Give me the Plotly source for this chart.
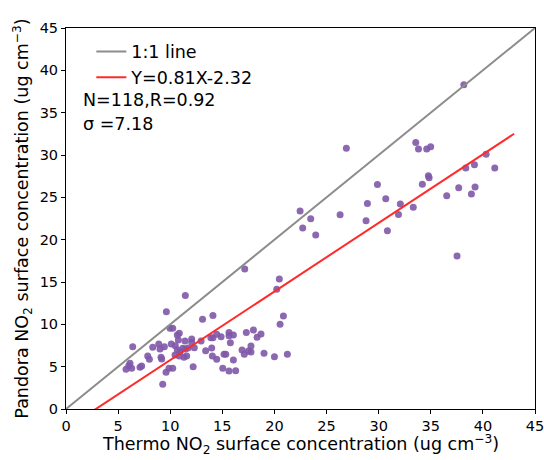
import plotly.graph_objects as go

# Thermo NO2 (x) vs Pandora NO2 (y), ug cm^-3
thermo = [
    11.45, 9.63, 9.98, 10.24, 10.68, 10.87, 10.78, 11.42, 12.06, 12.06,
    6.4, 8.32, 8.9, 9.02, 9.44, 10.1, 10.49, 10.68, 10.94, 11.2,
    11.45, 11.71, 12.31, 10.46, 10.87, 11.32, 11.58, 12.2, 9.12, 9.18,
    7.84, 8.0, 7.1, 7.26, 6.14, 6.3, 5.76, 6.02, 9.6, 9.88,
    10.24, 9.28, 12.96, 13.1, 14.1, 20.86, 20.54, 13.9, 14.1, 14.46,
    14.88, 15.64, 15.64, 16.06, 15.77, 17.3, 17.98, 18.71, 18.33, 13.4,
    13.98, 14.04, 14.46, 15.16, 15.33, 16.06, 16.89, 17.11, 17.5, 17.75,
    17.75, 19.0, 20.0, 21.24, 15.04, 15.64, 16.28, 17.15, 20.47, 20.22,
    26.9, 33.56, 33.82, 34.61, 34.99, 29.88, 28.92, 30.68, 32.08, 33.32,
    31.9, 28.79, 30.84, 26.3, 22.46, 23.48, 22.71, 23.96, 38.17, 40.31,
    38.36, 39.19, 41.14, 34.77, 34.84, 34.19, 37.68, 39.25, 38.9, 36.53,
    37.52,
]
pandora = [
    13.42, 11.5, 9.53, 9.53, 8.74, 8.94, 8.15, 8.03, 8.26, 7.87,
    7.36, 7.28, 7.67, 7.08, 7.36, 7.67, 7.47, 6.97, 6.77, 7.17,
    7.08, 7.2, 7.24, 6.38, 6.26, 6.1, 6.26, 4.99, 6.1, 5.9,
    6.26, 5.87, 4.92, 5.08, 5.39, 4.8, 4.69, 5.12, 4.33, 4.8,
    4.8, 2.92, 8.03, 10.6, 11.04, 10.98, 10.0, 8.42, 8.42, 8.82,
    8.54, 9.05, 8.66, 8.74, 7.83, 9.05, 9.33, 8.86, 8.46, 6.89,
    7.2, 6.26, 5.87, 6.46, 6.46, 5.78, 6.97, 6.46, 6.86, 7.45,
    6.73, 6.58, 6.18, 6.46, 4.8, 4.49, 4.52, 16.53, 15.35, 14.13,
    30.8, 31.49, 30.72, 30.7, 30.97, 26.53, 24.28, 24.83, 24.22, 23.82,
    22.96, 22.23, 21.05, 22.94, 23.38, 22.47, 21.37, 20.54, 38.29, 30.1,
    28.45, 28.85, 28.45, 27.55, 27.31, 26.56, 26.13, 26.21, 25.38, 25.18,
    18.06,
]

one_to_one_x = [0, 45]
slope, intercept = 0.81, -2.32
fit_x = [0, 43]
fit_y = [slope * v + intercept for v in fit_x]

tick_vals = [0, 5, 10, 15, 20, 25, 30, 35, 40, 45]

FONT = "DejaVu Sans"

fig = go.Figure()
fig.add_trace(go.Scatter(
    x=thermo, y=pandora, mode="markers", showlegend=False,
    marker=dict(size=7, color="rgba(128,88,168,0.9)", line=dict(width=0)),
))
fig.add_trace(go.Scatter(
    x=one_to_one_x, y=one_to_one_x, mode="lines", name="1:1 line",
    line=dict(color="#8c8c8c", width=2), legendgroup="a",
))
fig.add_trace(go.Scatter(
    x=fit_x, y=fit_y, mode="lines", name="Y=0.81X-2.32",
    line=dict(color="#ff2a2a", width=2), legendgroup="b",
))

fig.update_layout(
    width=544, height=460,
    margin=dict(l=66, r=9, t=28, b=51, autoexpand=False),
    paper_bgcolor="white", plot_bgcolor="white",
    font=dict(family=FONT, color="black", size=14.5),
    legend=dict(
        x=0.054, y=0.985, xanchor="left", yanchor="top",
        bgcolor="rgba(0,0,0,0)", borderwidth=0,
        font=dict(size=17.5, family=FONT), tracegroupgap=0,
    ),
    annotations=[
        dict(text="N=118,R=0.92", xref="paper", yref="paper", x=0.032, y=0.812,
             xanchor="left", yanchor="middle", showarrow=False,
             font=dict(size=17.5, family=FONT)),
        dict(text="σ =7.18", xref="paper", yref="paper", x=0.032, y=0.748,
             xanchor="left", yanchor="middle", showarrow=False,
             font=dict(size=17.5, family=FONT)),
        dict(text="Thermo NO<sub>2</sub> surface concentration (ug cm<sup>−3</sup>)",
             xref="paper", yref="paper", x=0.5, y=-0.092,
             xanchor="center", yanchor="middle", showarrow=False,
             font=dict(size=17.5, family=FONT)),
    ],
)

axis_common = dict(
    range=[0, 45], tickvals=tick_vals, ticks="outside", ticklen=4, tickwidth=1,
    tickcolor="black", showline=True, linecolor="black", linewidth=1, mirror=True,
    showgrid=False, zeroline=False, tickfont=dict(size=14.5, family=FONT),
    automargin=False, ticklabeloverflow="allow",
)
fig.update_xaxes(**axis_common)
fig.update_yaxes(**axis_common,
                 title=dict(text="Pandora NO<sub>2</sub> surface concentration (ug cm<sup>−3</sup>)",
                            font=dict(size=17.5, family=FONT), standoff=6))

fig.write_html(
    "out.html",
    config={"displayModeBar": False},
    post_script="document.body.style.margin='0';document.body.style.overflow='hidden';"
                "document.documentElement.style.overflow='hidden';",
)
